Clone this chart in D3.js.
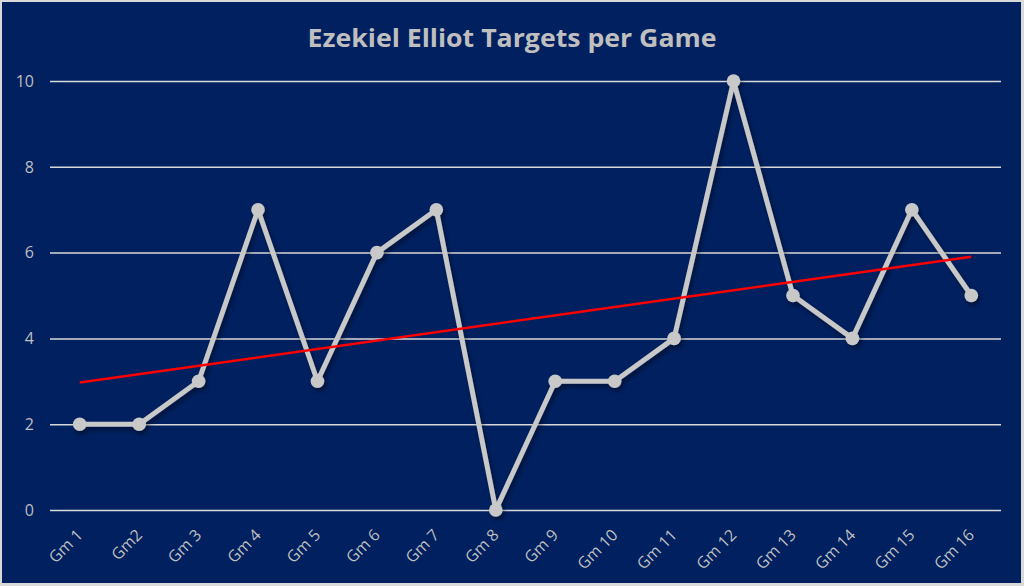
<!DOCTYPE html>
<html><head><meta charset="utf-8">
<script src="https://cdn.jsdelivr.net/npm/d3@7"></script>
<style>html,body{margin:0;padding:0;background:#d9d9d9;}svg{display:block;}</style>
</head><body>
<svg id="c" width="1024" height="586"></svg>
<script>
const categories = ["Gm 1","Gm2","Gm 3","Gm 4","Gm 5","Gm 6","Gm 7","Gm 8","Gm 9","Gm 10","Gm 11","Gm 12","Gm 13","Gm 14","Gm 15","Gm 16"];
const targets = [2,2,3,7,3,6,7,0,3,3,4,10,5,4,7,5];
const yTicks = [0,2,4,6,8,10];
const title = "Ezekiel Elliot Targets per Game";

(function(){
const svg = d3.select("#c");
const W = 1024, H = 586;
const FONT = "'Open Sans', Lato, sans-serif";
svg.append("rect").attr("x",0).attr("y",0).attr("width",W).attr("height",H).attr("fill","#d9d9d9");
svg.append("rect").attr("x",2).attr("y",2).attr("width",W-5).attr("height",H-5).attr("fill","#002060");

const defs = svg.append("defs");
const f = defs.append("filter").attr("id","sh").attr("x","-10%").attr("y","-10%").attr("width","120%").attr("height","120%");
f.append("feDropShadow").attr("dx",2).attr("dy",3).attr("stdDeviation",2.5).attr("flood-color","#000").attr("flood-opacity",0.45);

const mL = 50, mR = 1001, mT = 81, mB = 510;
const x = d3.scaleBand().domain(categories).range([mL,mR]);
const y = d3.scaleLinear().domain([0,10]).range([mB,mT]);
const cx = d => x(d) + x.bandwidth()/2;

svg.append("text").attr("x",512).attr("y",47).attr("text-anchor","middle")
  .attr("font-family",FONT).attr("font-weight","bold").attr("font-size",25)
  .attr("textLength",409).attr("lengthAdjust","spacingAndGlyphs")
  .attr("fill","#bfbfbf").text(title);

const yAxis = svg.append("g").attr("transform",`translate(${mL},0)`)
  .call(d3.axisLeft(y).tickValues(yTicks).tickSize(-(mR-mL)).tickPadding(16).tickFormat(d3.format("d")));
yAxis.select(".domain").remove();
yAxis.selectAll("line").attr("stroke","#d9d9d9").attr("stroke-width",1.5);
yAxis.selectAll("text").attr("fill","#bfbfbf").attr("font-family",FONT).attr("font-size",16).attr("dy","0.33em");

const xAxis = svg.append("g").attr("transform",`translate(0,${mB})`)
  .call(d3.axisBottom(x).tickSize(0).tickPadding(0));
xAxis.select(".domain").remove();
xAxis.selectAll("text").attr("fill","#bfbfbf").attr("font-family",FONT).attr("font-size",16)
  .attr("text-anchor","end").attr("dy",0).attr("transform","translate(4,26) rotate(-45)");

const pts = categories.map((c,i)=>({c, v:targets[i]}));
const g = svg.append("g").attr("filter","url(#sh)");
g.append("path").datum(pts).attr("fill","none").attr("stroke","#c8c8c8").attr("stroke-width",5).attr("stroke-linejoin","round")
  .attr("d", d3.line().x(d=>cx(d.c)).y(d=>y(d.v)));
g.selectAll("circle").data(pts).join("circle").attr("cx",d=>cx(d.c)).attr("cy",d=>y(d.v)).attr("r",6.8).attr("fill","#c8c8c8");

const n = targets.length;
const xs = d3.range(1,n+1);
const mx = d3.mean(xs), my = d3.mean(targets);
const slope = d3.sum(xs,(xi,i)=>(xi-mx)*(targets[i]-my)) / d3.sum(xs,xi=>(xi-mx)*(xi-mx));
const icpt = my - slope*mx;
const trend = [{c:categories[0], v:icpt+slope*1},{c:categories[n-1], v:icpt+slope*n}];
svg.append("path").datum(trend).attr("fill","none").attr("stroke","#ff0000").attr("stroke-width",2.5)
  .attr("d", d3.line().x(d=>cx(d.c)).y(d=>y(d.v)));
})();
</script>
</body></html>
